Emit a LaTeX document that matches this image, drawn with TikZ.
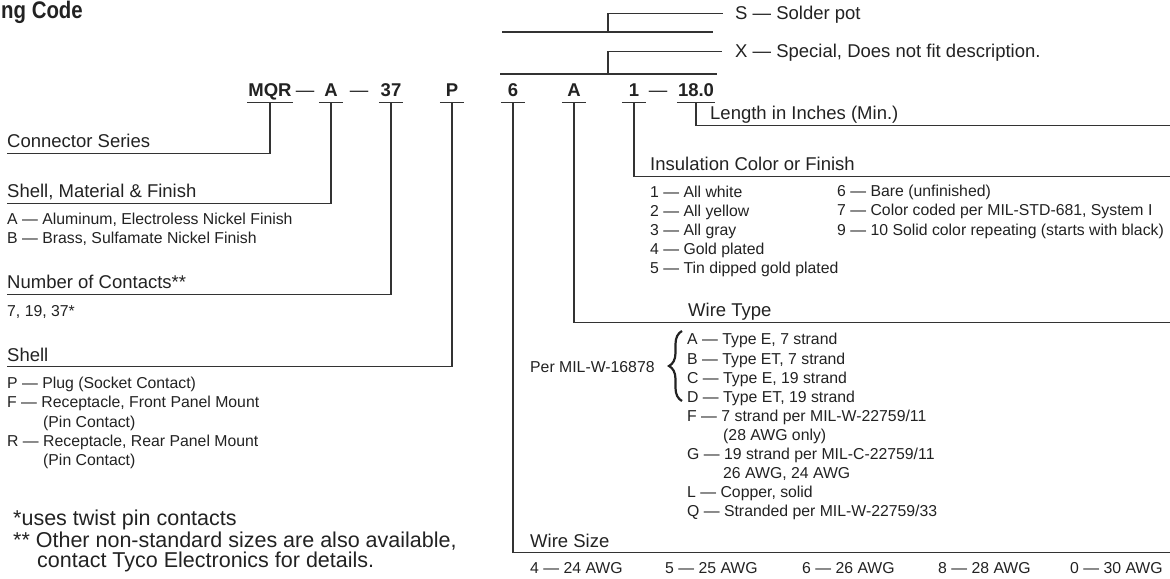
\documentclass[tikz,border=0pt]{standalone}
\usepackage{fontspec}
\setmainfont{Liberation Sans}
\usepackage{xcolor}
\usepackage{tikz}
\usetikzlibrary{decorations.pathreplacing}
\definecolor{ink}{HTML}{222222}
\definecolor{rulegray}{HTML}{333333}

\begin{document}
\begin{tikzpicture}[x=1bp, y=-1bp,
  every node/.style={text=ink},
  code/.style={font=\fontsize{18.5bp}{20bp}\selectfont\bfseries, anchor=base,
    inner xsep=1bp, inner ysep=5bp, text depth=0pt, minimum width=24bp},
  sep/.style={font=\fontsize{18.5bp}{20bp}\selectfont, anchor=base, inner sep=0pt},
  cat/.style={font=\fontsize{18.5bp}{20bp}\selectfont, anchor=base west,
    inner xsep=0pt, inner ysep=5.5bp, text depth=0pt},
  item/.style={font=\fontsize{15.8bp}{19bp}\selectfont, anchor=base west, inner sep=0pt},
  note/.style={font=\fontsize{21.5bp}{24bp}\selectfont, anchor=base west, inner sep=0pt},
  rule/.style={draw=rulegray, line width=1.2bp}]
  \useasboundingbox (0,0) rectangle (1170,579);
  \coordinate (rim) at (1170,0);

  % title (cut at the left edge)
  \node[anchor=base west, inner sep=0pt, font=\fontsize{24bp}{26bp}\selectfont\bfseries]
    (title) at (1,18.5) {\scalebox{0.85}[1]{ng Code}};

  % the part number
  \node[code] (mqr)   at (270,97) {MQR};
  \node[code] (shmat) at (331,97) {A};
  \node[code] (ncont) at (391,97) {37};
  \node[code] (shell) at (452,97) {P};
  \node[code] (wsize) at (513,97) {6};
  \node[code] (wtype) at (574,97) {A};
  \node[code] (insul) at (634,97) {1};
  \node[code] (len)   at (696,97) {18.0};
  \node[sep] (d1) at (305,97) {—};
  \node[sep] (d2) at (359,97) {—};
  \node[sep] (d3) at (658,97) {—};
  \foreach \n in {mqr,shmat,ncont,shell,wsize,wtype,insul,len}
    \draw[rule] (\n.south west) -- (\n.south east);

  % optional ends above the code
  \node[cat, inner ysep=0pt] (solder) at (735,20) {S — Solder pot};
  \node[cat, inner ysep=0pt] (special) at (735,58) {X — Special, Does not fit description.};
  \coordinate (s1) at (502,32); \coordinate (s2) at (713,32); \coordinate (sv) at (608,32);
  \coordinate (x1) at (500,74); \coordinate (x2) at (717,74); \coordinate (xv) at (608,74);
  \draw[rule] (s1) -- (s2);
  \draw[rule] (sv) |- ([xshift=-12bp]solder.west);
  \draw[rule] (x1) -- (x2);
  \draw[rule] (xv) |- ([xshift=-13bp]special.west);

  % left hand fields
  \node[cat] (lcs) at (7,148) {Connector Series};
  \node[cat] (lsm) at (7,198) {Shell, Material \& Finish};
  \node[cat] (lnc) at (7,289) {Number of Contacts**};
  \node[cat] (lsh) at (7,361) {Shell};
  \draw[rule] (mqr.south) |- (lcs.south west);
  \draw[rule] (shmat.south) |- (lsm.south west);
  \draw[rule] (ncont.south) |- (lnc.south west);
  \draw[rule] (shell.south) |- (lsh.south west);

  \foreach \y/\t [count=\i] in {225/{A — Aluminum, Electroless Nickel Finish},
      244/{B — Brass, Sulfamate Nickel Finish}}
    \node[item] (sm\i) at (7,\y) {\t};
  \node[item] (nc1) at (7,317) {7, 19, 37*};
  \foreach \x/\y/\t [count=\i] in {7/388/{P — Plug (Socket Contact)},
      7/407/{F — Receptacle, Front Panel Mount}, 43/427/{(Pin Contact)},
      7/446/{R — Receptacle, Rear Panel Mount}, 43/465/{(Pin Contact)}}
    \node[item] (sh\i) at (\x,\y) {\t};

  % right hand fields
  \node[cat] (llen) at (710,120) {Length in Inches (Min.)};
  \node[cat] (lic) at (650,171) {Insulation Color or Finish};
  \node[cat] (lwt) at (688,317) {Wire Type};
  \node[cat] (lws) at (530,547) {Wire Size};
  \draw[rule] (len.south) |- (llen.south -| rim);
  \draw[rule] (insul.south) |- (lic.south -| rim);
  \draw[rule] (wtype.south) |- (lwt.south -| rim);
  \draw[rule] (wsize.south) |- (lws.south -| rim);

  % insulation colours, two columns
  \foreach \y/\t [count=\i] in {198/1 — All white, 217/2 — All yellow, 236/3 — All gray,
      255/4 — Gold plated, 274/5 — Tin dipped gold plated}
    \node[item] (ic\i) at (650,\y) {\t};
  \foreach \y/\t [count=\i] in {197/6 — Bare (unfinished),
      216/{7 — Color coded per MIL-STD-681, System I},
      236/9 — 10 Solid color repeating (starts with black)}
    \node[item] (icb\i) at (837,\y) {\t};

  % wire types
  \node[item] (permil) at (530,372) {Per MIL-W-16878};
  \draw[ink, line width=2.2bp, decorate, decoration={brace, amplitude=13bp}]
    (682,401) -- (682,331);
  \foreach \x/\y/\t [count=\i] in {687/345/{A — Type E, 7 strand},
      687/364/{B — Type ET, 7 strand}, 687/383/{C — Type E, 19 strand},
      687/402/{D — Type ET, 19 strand}, 687/421/{F — 7 strand per MIL-W-22759/11},
      723/440/{(28 AWG only)}, 687/459/{G — 19 strand per MIL-C-22759/11},
      723/478/{26 AWG, 24 AWG}, 687/497/{L — Copper, solid},
      687/516/{Q — Stranded per MIL-W-22759/33}}
    \node[item] (wt\i) at (\x,\y) {\t};

  % wire sizes
  \foreach \x/\t [count=\i] in {530/4 — 24 AWG, 665/5 — 25 AWG, 802/6 — 26 AWG,
      938/8 — 28 AWG, 1070/0 — 30 AWG}
    \node[item] (sz\i) at (\x,573) {\t};

  % footnotes
  \node[note] (fn1) at (13,525) {*uses twist pin contacts};
  \node[note] (fn2) at (13,547) {** Other non-standard sizes are also available,};
  \node[note] (fn3) at (37,567) {contact Tyco Electronics for details.};
\end{tikzpicture}
\end{document}
